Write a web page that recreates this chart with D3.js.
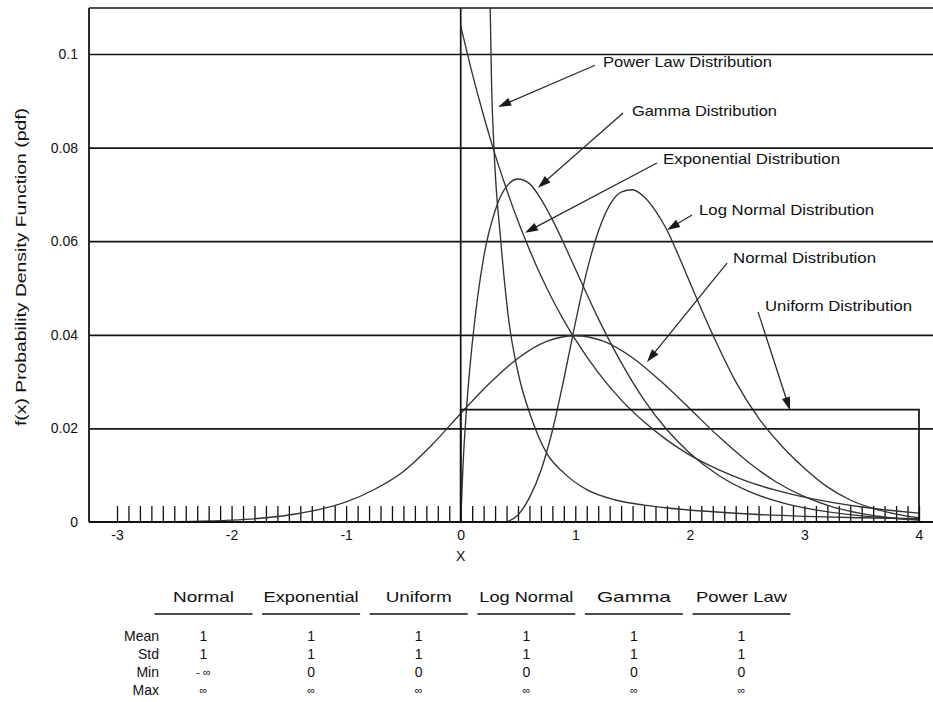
<!DOCTYPE html>
<html>
<head>
<meta charset="utf-8">
<script src="https://cdn.jsdelivr.net/npm/d3@7/dist/d3.min.js"></script>
<style>
  html, body { margin: 0; padding: 0; background: #fff; }
  svg { display: block; }
  text { font-family: "Liberation Sans", Arial, sans-serif; fill: #111; }
</style>
</head>
<body>
<svg id="chart" width="933" height="702"></svg>
<script>
// ---------------- data ----------------
const xTickValues = [-3, -2, -1, 0, 1, 2, 3, 4];
const xTickLabels = ["-3", "-2", "-1", "0", "1", "2", "3", "4"];
const yTickValues = [0, 0.02, 0.04, 0.06, 0.08, 0.1];
const yTickLabels = ["0", "0.02", "0.04", "0.06", "0.08", "0.1"];

const normalX = [-3, -2.5, -2, -1.75, -1.5, -1.25, -1, -0.75, -0.5, -0.25, 0, 0.25, 0.5, 0.75, 1, 1.25, 1.5, 1.75, 2, 2.25, 2.5, 2.75, 3, 3.25, 3.5, 3.75, 4];
const normalY = [0.00001, 0.00009, 0.0004, 0.0008, 0.0015, 0.0026, 0.0043, 0.0070, 0.0108, 0.0165, 0.0232, 0.0296, 0.0350, 0.0386, 0.0398, 0.0386, 0.0351, 0.0300, 0.0242, 0.0183, 0.0130, 0.0086, 0.0054, 0.0032, 0.0018, 0.0009, 0.0004];

const exponentialX = [0, 0.1, 0.2, 0.3, 0.4, 0.5, 0.6, 0.7, 0.8, 0.9, 1.0, 1.2, 1.4, 1.6, 1.8, 2.0, 2.25, 2.5, 2.75, 3.0, 3.5, 4.0];
const exponentialY = [0.106, 0.0959, 0.0868, 0.0785, 0.0711, 0.0643, 0.0582, 0.0526, 0.0476, 0.0431, 0.0390, 0.0319, 0.0261, 0.0214, 0.0175, 0.0143, 0.0112, 0.0087, 0.0068, 0.0053, 0.0032, 0.0019];

const uniformX = [0, 4];
const uniformY = 0.024;

const logNormalX = [0.40, 0.5, 0.6, 0.7, 0.8, 0.9, 1.0, 1.1, 1.2, 1.3, 1.4, 1.5, 1.6, 1.7, 1.8, 1.9, 2.0, 2.2, 2.4, 2.6, 2.8, 3.0, 3.2, 3.4, 3.6, 3.8, 4.0];
const logNormalY = [0.0, 0.0015, 0.0052, 0.0110, 0.0195, 0.0305, 0.0425, 0.0535, 0.0620, 0.0677, 0.0705, 0.0710, 0.0695, 0.0665, 0.0624, 0.0570, 0.0512, 0.0400, 0.0300, 0.0222, 0.0163, 0.0115, 0.0075, 0.0047, 0.0029, 0.0017, 0.0009];

const gammaX = [0, 0.02, 0.05, 0.1, 0.15, 0.2, 0.3, 0.4, 0.5, 0.6, 0.7, 0.8, 0.9, 1.0, 1.2, 1.4, 1.6, 1.8, 2.0, 2.25, 2.5, 2.75, 3.0, 3.5, 4.0];
const gammaY = [0, 0.012, 0.024, 0.038, 0.0485, 0.0565, 0.0665, 0.0717, 0.0733, 0.0723, 0.0690, 0.0646, 0.0595, 0.0541, 0.0435, 0.0341, 0.0261, 0.0197, 0.0147, 0.0100, 0.0067, 0.0045, 0.0030, 0.0013, 0.0005];

const powerLawX = [0.25, 0.257, 0.27, 0.29, 0.35, 0.42, 0.5, 0.62, 0.75, 0.9, 1.1, 1.35, 1.6, 1.8, 2.2, 2.6, 3.0, 3.5, 4.0];
const powerLawY = [0.125, 0.110, 0.093, 0.080, 0.060, 0.043, 0.032, 0.022, 0.0147, 0.0105, 0.0069, 0.0047, 0.0036, 0.0030, 0.0022, 0.0016, 0.0012, 0.0009, 0.0007];

const annotationLabels = ["Power Law Distribution", "Gamma Distribution", "Exponential Distribution", "Log Normal Distribution", "Normal Distribution", "Uniform Distribution"];

const tableColumns = ["Normal", "Exponential", "Uniform", "Log Normal", "Gamma", "Power Law"];
const tableRowLabels = ["Mean", "Std", "Min", "Max"];
const meanValues = ["1", "1", "1", "1", "1", "1"];
const stdValues = ["1", "1", "1", "1", "1", "1"];
const minValues = ["- \u221E", "0", "0", "0", "0", "0"];
const maxValues = ["\u221E", "\u221E", "\u221E", "\u221E", "\u221E", "\u221E"];

const yAxisTitle = "f(x)  Probability Density Function (pdf)";
const xAxisTitle = "X";

// ---------------- layout ----------------
const plotLeft = 89, plotRight = 933, plotTop = 8, plotBottom = 522;
const svg = d3.select("#chart");
svg.append("rect").attr("width", 933).attr("height", 702).attr("fill", "#fff");

const x = d3.scaleLinear().domain([-3, 4]).range([117, 919]);
const y = d3.scaleLinear().domain([0, 0.1]).range([plotBottom, 54]);

svg.append("defs").append("clipPath").attr("id", "plotclip")
  .append("rect").attr("x", plotLeft).attr("y", plotTop)
  .attr("width", plotRight - plotLeft).attr("height", plotBottom - plotTop);

// gridlines
const grid = svg.append("g").attr("transform", `translate(${plotLeft},0)`)
  .call(d3.axisLeft(y).tickValues(yTickValues.slice(1)).tickSize(-(plotRight - plotLeft)).tickFormat(""));
grid.select(".domain").remove();
grid.selectAll("line").attr("stroke", "#151515").attr("stroke-width", 1.7);

// frame: top and left
svg.append("line").attr("x1", plotLeft).attr("x2", plotRight).attr("y1", plotTop).attr("y2", plotTop)
  .attr("stroke", "#151515").attr("stroke-width", 1.7);
svg.append("line").attr("x1", plotLeft).attr("x2", plotLeft).attr("y1", plotTop).attr("y2", plotBottom)
  .attr("stroke", "#151515").attr("stroke-width", 1.8);
// zero vertical line
svg.append("line").attr("x1", x(0)).attr("x2", x(0)).attr("y1", plotTop).attr("y2", plotBottom)
  .attr("stroke", "#151515").attr("stroke-width", 1.7);

// y tick labels
const yAx = svg.append("g").attr("transform", `translate(${plotLeft},0)`)
  .call(d3.axisLeft(y).tickValues(yTickValues).tickSize(0).tickPadding(11)
    .tickFormat((d, i) => yTickLabels[i]));
yAx.select(".domain").remove();
yAx.selectAll("text").attr("font-size", 14).style("font-family", "'Liberation Sans', Arial, sans-serif").attr("fill", "#111");

// minor ticks along the baseline
const minor = svg.append("g").attr("transform", `translate(0,${plotBottom})`)
  .call(d3.axisBottom(x).tickValues(d3.range(-30, 41).map(i => i / 10)).tickSize(-16).tickFormat(""));
minor.select(".domain").remove();
minor.selectAll("line").attr("stroke", "#111").attr("stroke-width", 1.3);

// x tick labels
const xAx = svg.append("g").attr("transform", `translate(0,${plotBottom})`)
  .call(d3.axisBottom(x).tickValues(xTickValues).tickSize(0).tickPadding(8)
    .tickFormat((d, i) => xTickLabels[i]));
xAx.select(".domain").remove();
xAx.selectAll("text").attr("font-size", 14).style("font-family", "'Liberation Sans', Arial, sans-serif").attr("fill", "#111");

// curves
const line = d3.line().x(d => x(d[0])).y(d => y(d[1])).curve(d3.curveMonotoneX);
const curves = svg.append("g").attr("clip-path", "url(#plotclip)");
const series = [
  [normalX, normalY],
  [exponentialX, exponentialY],
  [logNormalX, logNormalY],
  [gammaX, gammaY],
  [powerLawX, powerLawY]
];
series.forEach(([xs, ys]) => {
  curves.append("path").datum(xs.map((v, i) => [v, ys[i]]))
    .attr("d", line).attr("fill", "none").attr("stroke", "#333").attr("stroke-width", 1.35);
});
// uniform rectangle
curves.append("path")
  .datum([[uniformX[0], 0], [uniformX[0], uniformY], [uniformX[1], uniformY], [uniformX[1], 0], [uniformX[0], 0]])
  .attr("d", d3.line().x(d => x(d[0])).y(d => y(d[1])))
  .attr("fill", "none").attr("stroke", "#111").attr("stroke-width", 1.7);

// baseline
svg.append("line").attr("x1", plotLeft).attr("x2", plotRight).attr("y1", plotBottom).attr("y2", plotBottom)
  .attr("stroke", "#111").attr("stroke-width", 2.2);

// annotations (data coordinates)
const annotTextX = [1.242, 1.495, 1.766, 2.080, 2.377, 2.656];
const annotTextY = [0.0983, 0.0878, 0.0776, 0.0667, 0.0564, 0.0462];
const annotStartX = [1.172, 1.417, 1.713, 2.019, 2.324, 2.595];
const annotStartY = [0.0976, 0.0874, 0.0767, 0.0656, 0.0553, 0.0449];
const annotTipX = [0.326, 0.674, 0.561, 1.801, 1.626, 2.874];
const annotTipY = [0.0887, 0.0714, 0.0618, 0.0624, 0.0342, 0.0239];
const annotWidths = [169, 145, 177, 175, 143, 147];

const ann = svg.append("g");
annotationLabels.forEach((lab, i) => {
  const x1 = x(annotStartX[i]), y1 = y(annotStartY[i]);
  const x2 = x(annotTipX[i]), y2 = y(annotTipY[i]);
  const dx = x2 - x1, dy = y2 - y1, len = Math.hypot(dx, dy);
  const ux = dx / len, uy = dy / len;
  const hl = 13, hw = 4.2;
  const bx = x2 - ux * hl, by = y2 - uy * hl;
  ann.append("line").attr("x1", x1).attr("y1", y1).attr("x2", bx + ux * 2).attr("y2", by + uy * 2)
    .attr("stroke", "#2b2b2b").attr("stroke-width", 1.3);
  ann.append("path")
    .attr("d", `M${x2},${y2}L${bx - uy * hw},${by + ux * hw}L${bx + uy * hw},${by - ux * hw}Z`)
    .attr("fill", "#1a1a1a");
  ann.append("text").attr("x", x(annotTextX[i])).attr("y", y(annotTextY[i]))
    .attr("dy", "0.36em").attr("font-size", 15)
    .attr("textLength", annotWidths[i]).attr("lengthAdjust", "spacingAndGlyphs")
    .text(lab);
});

// axis titles
svg.append("text").attr("transform", "translate(26,267) rotate(-90)")
  .attr("text-anchor", "middle").attr("font-size", 14)
  .attr("textLength", 318).attr("lengthAdjust", "spacingAndGlyphs")
  .text(yAxisTitle);
svg.append("text").attr("x", x(0)).attr("y", 556).attr("dy", "0.36em")
  .attr("text-anchor", "middle").attr("font-size", 14).text(xAxisTitle);

// table
const colScale = d3.scalePoint().domain(tableColumns).range([203.5, 741.5]);
const rowScale = d3.scalePoint().domain(tableRowLabels).range([636, 690]);
const headerWidths = [61, 95, 66, 94, 74, 91];
const table = svg.append("g");
tableColumns.forEach((c, i) => {
  const cx = colScale(c);
  table.append("text").attr("x", cx).attr("y", 597).attr("dy", "0.36em")
    .attr("text-anchor", "middle").attr("font-size", 15)
    .attr("textLength", headerWidths[i]).attr("lengthAdjust", "spacingAndGlyphs").text(c);
  table.append("line").attr("x1", cx - 49).attr("x2", cx + 49).attr("y1", 614).attr("y2", 614)
    .attr("stroke", "#111").attr("stroke-width", 1.6);
});
tableRowLabels.forEach(r => {
  table.append("text").attr("x", 159).attr("y", rowScale(r)).attr("dy", "0.36em")
    .attr("text-anchor", "end").attr("font-size", 14).text(r);
});
const rowValues = [meanValues, stdValues, minValues, maxValues];
rowValues.forEach((vals, ri) => {
  vals.forEach((v, ci) => {
    const isInf = v.indexOf("\u221E") >= 0;
    table.append("text").attr("x", colScale(tableColumns[ci])).attr("y", rowScale(tableRowLabels[ri]))
      .attr("dy", "0.36em").attr("text-anchor", "middle")
      .attr("font-size", isInf ? 11 : 14).text(v);
  });
});
</script>
</body>
</html>
